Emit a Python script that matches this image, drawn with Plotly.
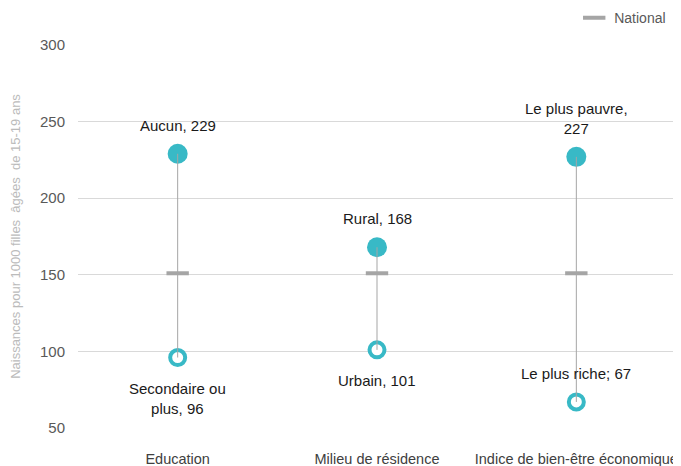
import plotly.graph_objects as go

categories = ["Education", "Milieu de résidence", "Indice de bien-être économique"]
high_values = [229, 168, 227]
low_values = [96, 101, 67]
national_values = [151, 151, 151]
high_labels = ["Aucun, 229", "Rural, 168", "Le plus pauvre,<br>227"]
low_labels = ["Secondaire ou<br>plus, 96", "Urbain, 101", "Le plus riche; 67"]
y_ticks = [50, 100, 150, 200, 250, 300]

teal = "#38B9C6"
grey = "#A5A5A5"
font = "Liberation Sans, Arial, sans-serif"

fig = go.Figure()

# high markers (filled)
fig.add_trace(go.Scatter(x=categories, y=high_values, mode="markers",
                         marker=dict(size=20, color=teal, line=dict(width=0)),
                         showlegend=False, hoverinfo="skip"))
# low markers (hollow)
fig.add_trace(go.Scatter(x=categories, y=low_values, mode="markers",
                         marker=dict(size=15, color="white", line=dict(width=4, color=teal)),
                         showlegend=False, hoverinfo="skip"))
# connectors
for c, h, l in zip(categories, high_values, low_values):
    fig.add_trace(go.Scatter(x=[c, c], y=[h, l], mode="lines",
                             line=dict(color=grey, width=1),
                             showlegend=False, hoverinfo="skip"))
# national
fig.add_trace(go.Scatter(x=categories, y=national_values, mode="markers", name="National",
                         marker=dict(symbol="line-ew", size=16, line=dict(width=4, color=grey), color=grey),
                         hoverinfo="skip"))

ann = []
for c, h, t in zip(categories, high_values, high_labels):
    ann.append(dict(x=c, y=h, text=t, showarrow=False, yanchor="bottom", yshift=18,
                    font=dict(size=15, color="#1a1a1a", family=font)))
for c, l, t in zip(categories, low_values, low_labels):
    ann.append(dict(x=c, y=l, text=t, showarrow=False, yanchor="top", yshift=-20,
                    font=dict(size=15, color="#1a1a1a", family=font)))
# the "Le plus riche" label sits above its marker
ann[5].update(yanchor="bottom", yshift=18)

# page body has an 8px margin, so the figure is drawn 8px smaller
fig.update_layout(
    width=673, height=458,
    margin=dict(l=70, r=5, t=37, b=38, autoexpand=False),
    paper_bgcolor="white", plot_bgcolor="white",
    font=dict(family=font, color="#595959"),
    annotations=ann,
    showlegend=True,
    legend=dict(x=0.992, y=1.07, xanchor="right", yanchor="middle", orientation="h",
                font=dict(size=14, color="#595959", family=font),
                itemwidth=30, bgcolor="rgba(0,0,0,0)"),
    xaxis=dict(range=[-0.5, 2.5], showgrid=False, showline=False, zeroline=False, ticks="",
               tickfont=dict(size=14.5, color="#404040", family=font), ticklabelstandoff=20),
    yaxis=dict(range=[50, 300], tickvals=y_ticks, showgrid=True, gridcolor="#D9D9D9", gridwidth=1,
               zeroline=False, showline=False, ticks="",
               tickfont=dict(size=15, color="#595959", family=font), ticklabelstandoff=12,
               title=dict(text="Naissances pour 1000 filles  âgées  de 15-19 ans",
                          font=dict(size=13, color="#BBBBBB", family=font), standoff=20)),
)

fig.write_html("out.html")
